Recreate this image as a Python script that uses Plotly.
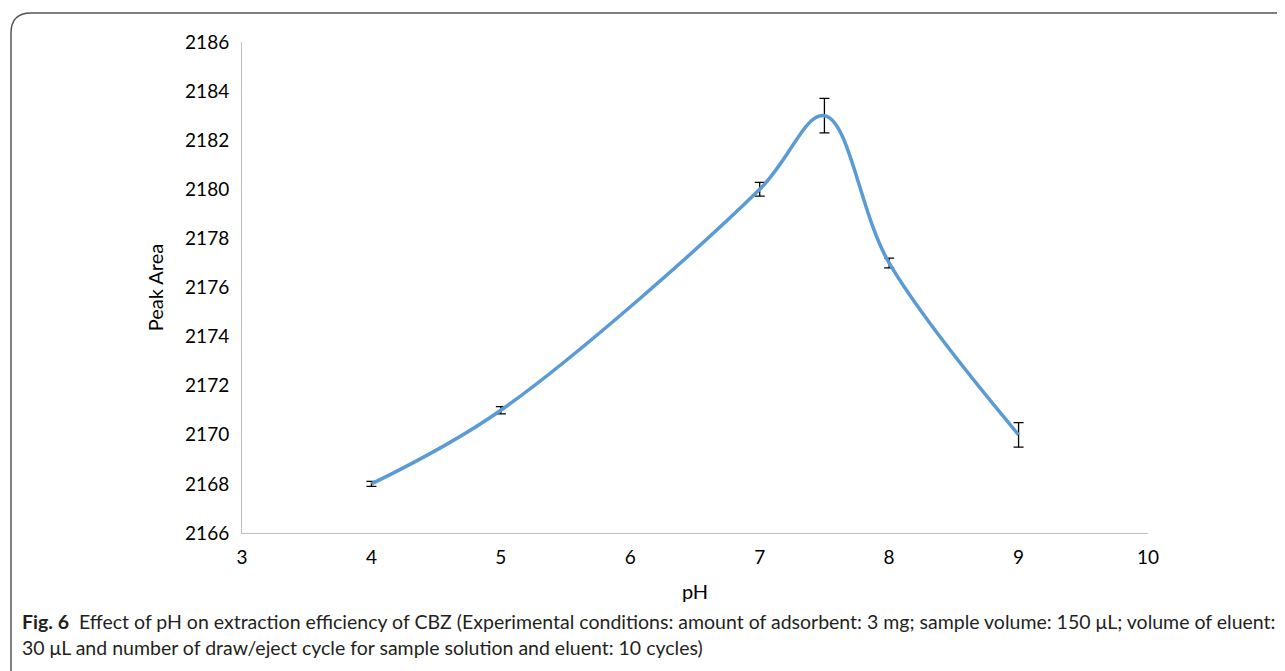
import plotly.graph_objects as go

ph = [4, 5, 7, 7.5, 8, 9]
peak_area = [2168, 2171, 2180, 2183, 2177, 2170]
err = [0.1, 0.15, 0.28, 0.7, 0.2, 0.5]
x_ticks = [3, 4, 5, 6, 7, 8, 9, 10]
y_ticks = [2166, 2168, 2170, 2172, 2174, 2176, 2178, 2180, 2182, 2184, 2186]

OFF = 8  # default page body margin
W, H = 1285 - OFF, 671 - OFF
# plot area in viewport pixels: x 242..1148, y 42..533
L, R, T, B = 242 - OFF, 1285 - 1148, 42 - OFF, 671 - 533
pw, ph_ = W - L - R, H - T - B

def px(xv):  # viewport x -> paper
    return (xv - OFF - L) / pw

def py(yv):  # viewport y -> paper
    return (H - B - (yv - OFF)) / ph_

fig = go.Figure()
fig.add_trace(go.Scatter(
    x=ph, y=peak_area, mode="lines",
    line=dict(color="#5b9bd5", width=3.5, shape="spline", smoothing=1.0),
    error_y=dict(type="data", array=err, visible=True, color="#000000", thickness=1.3, width=5),
    showlegend=False,
))

r = 20
path = (f"M {px(11)},{py(680)} L {px(11)},{py(13 + r)} Q {px(11)},{py(13)} {px(11 + r)},{py(13)} "
        f"L {px(1300)},{py(13)}")
fig.add_shape(type="path", path=path, xref="paper", yref="paper",
              line=dict(color="#555555", width=1.5))

cap_font = dict(family="Lato", size=19.5, color="#231f20")
fig.add_annotation(
    x=px(20), y=py(621), xref="paper", yref="paper", xanchor="left", yanchor="middle",
    showarrow=False, align="left",
    text="<b>Fig. 6</b>  Effect of pH on extraction efficiency of CBZ (Experimental conditions: amount of adsorbent: 3 mg; sample volume: 150 μL; volume of eluent:",
    font=cap_font,
)
fig.add_annotation(
    x=px(20), y=py(647), xref="paper", yref="paper", xanchor="left", yanchor="middle",
    showarrow=False, align="left",
    text="30 μL and number of draw/eject cycle for sample solution and eluent: 10 cycles)",
    font=cap_font,
)

fig.update_layout(
    width=W, height=H,
    margin=dict(l=L, r=R, t=T, b=B, pad=0),
    paper_bgcolor="white", plot_bgcolor="white",
    font=dict(family="Lato", color="#000000"),
    xaxis=dict(
        range=[3, 10], tickvals=x_ticks, ticktext=[str(v) for v in x_ticks],
        showgrid=False, zeroline=False, showline=True, linecolor="#bfbfbf", linewidth=1,
        ticks="", tickfont=dict(size=19), ticklabelstandoff=7,
        title=dict(text="pH", font=dict(size=20), standoff=18),
    ),
    yaxis=dict(
        range=[2166, 2186], tickvals=y_ticks, ticktext=[str(v) for v in y_ticks],
        showgrid=False, zeroline=False, showline=True, linecolor="#bfbfbf", linewidth=1,
        ticks="", tickfont=dict(size=19), ticklabelstandoff=8,
        title=dict(text="Peak Area", font=dict(size=20), standoff=16),
    ),
)

fig.write_html("out.html")
